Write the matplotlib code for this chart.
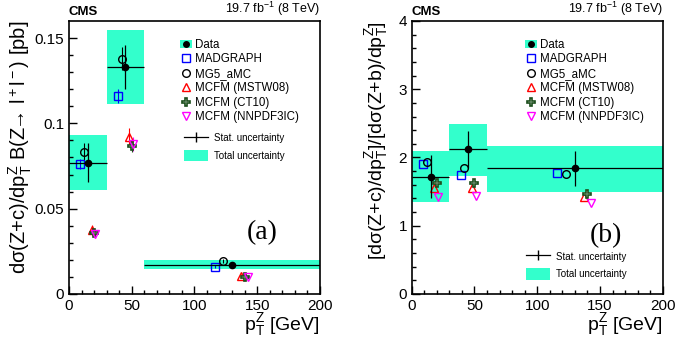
import numpy as np
import matplotlib
matplotlib.use('Agg')
from matplotlib import pyplot as plt
from matplotlib.lines import Line2D
from matplotlib.patches import Patch

plt.rcParams['font.family'] = ['Liberation Sans', 'DejaVu Sans']
plt.rcParams['mathtext.fontset'] = 'custom'
plt.rcParams['mathtext.rm'] = 'Liberation Sans'
plt.rcParams['mathtext.it'] = 'Liberation Sans'
plt.rcParams['mathtext.default'] = 'regular'

# bins in pT(Z)
bin_lo = [0, 30, 60]
bin_hi = [30, 60, 200]
x_data = [15, 45, 130]

# panel (a): dsigma(Z+c)/dpT x B [pb]
a_data = [0.077, 0.133, 0.0168]
a_stat = [0.0115, 0.0128, 0.0012]
a_tot_lo = [0.061, 0.1116, 0.0145]
a_tot_hi = [0.0932, 0.1548, 0.0199]

# panel (b): ratio Z+c / Z+b
b_data = [1.72, 2.12, 1.84]
b_stat = [0.32, 0.27, 0.26]
b_tot_lo = [1.35, 1.73, 1.49]
b_tot_hi = [2.09, 2.49, 2.17]

# theory predictions: x position, (a) value, (a) err, (b) value
models = [
    dict(label='MADGRAPH', x=[9, 39, 116], a=[0.076, 0.116, 0.016], ae=[0.003, 0.004, 0.001],
         b=[1.91, 1.74, 1.78], marker='s', color='blue'),
    dict(label='MG5_aMC', x=[12, 42, 123], a=[0.0834, 0.138, 0.0193], ae=[0.005, 0.007, 0.001],
         b=[1.93, 1.84, 1.76], marker='o', color='black'),
    dict(label='MCFM (MSTW08)', x=[18, 48, 137], a=[0.0375, 0.092, 0.0106], ae=[0.003, 0.005, 0.001],
         b=[1.56, 1.56, 1.42], marker='^', color='red'),
    dict(label='MCFM (CT10)', x=[20, 50, 140], a=[0.036, 0.087, 0.0100], ae=[0.002, 0.004, 0.001],
         b=[1.62, 1.63, 1.46], marker='P', color='#1a4d1a'),
    dict(label='MCFM (NNPDF3IC)', x=[21, 51, 143], a=[0.035, 0.088, 0.0100], ae=[0.002, 0.004, 0.001],
         b=[1.42, 1.43, 1.33], marker='v', color='magenta'),
]

cyan = '#33ffcc'

fig = plt.figure(figsize=(6.75, 3.42), dpi=100)
axa = fig.add_axes([0.1022, 0.1404, 0.3718, 0.7982])
axb = fig.add_axes([0.610, 0.1404, 0.3718, 0.7982])


def draw_panel(ax, data, stat, tlo, thi, key):
    for i in range(3):
        ax.bar(bin_lo[i], thi[i] - tlo[i], width=bin_hi[i] - bin_lo[i], bottom=tlo[i],
               align='edge', color=cyan, lw=0, zorder=1)
    for m in models:
        ys = m[key]
        ye = m['ae'] if key == 'a' else None
        if m['marker'] == 'P':
            ax.errorbar(m['x'], ys, yerr=ye, fmt='P', ms=6, mfc='white', mec=m['color'],
                        mew=1.2, ecolor=m['color'], elinewidth=0.8, capsize=0, zorder=3)
        else:
            ax.errorbar(m['x'], ys, yerr=ye, fmt=m['marker'], ms=5.5, mfc='none', mec=m['color'],
                        mew=1.0, ecolor=m['color'], elinewidth=0.8, capsize=0, zorder=3)
    xerr = [np.array(x_data) - np.array(bin_lo), np.array(bin_hi) - np.array(x_data)]
    ax.errorbar(x_data, data, xerr=xerr, yerr=stat, fmt='o', ms=4.5, color='black',
                elinewidth=0.9, capsize=0, zorder=4)


draw_panel(axa, a_data, a_stat, a_tot_lo, a_tot_hi, 'a')
draw_panel(axb, b_data, b_stat, b_tot_lo, b_tot_hi, 'b')

axa.set_xlim(0, 200)
axa.set_ylim(0, 0.16)
axa.set_yticks([0, 0.05, 0.1, 0.15])
axa.set_yticklabels(['0', '0.05', '0.1', '0.15'])
axa.set_yticks(np.arange(0, 0.16, 0.01), minor=True)
axb.set_xlim(0, 200)
axb.set_ylim(0, 4)
axb.set_yticks([0, 1, 2, 3, 4])
axb.set_yticks(np.arange(0, 4.01, 0.2), minor=True)

for ax in (axa, axb):
    ax.set_xticks([0, 50, 100, 150, 200])
    ax.set_xticks(np.arange(0, 201, 10), minor=True)
    ax.tick_params(which='both', direction='in', top=False, right=False, labelsize=11, width=1)
    ax.tick_params(which='major', length=6)
    ax.tick_params(which='minor', length=3)
    for s in ax.spines.values():
        s.set_linewidth(1.2)
    ax.set_xlabel(r'p$_T^Z$ [GeV]', fontsize=14, loc='right', labelpad=-1)
    ax.text(0.0, 1.012, 'CMS', transform=ax.transAxes, fontsize=9.5, fontweight='bold',
            ha='left', va='bottom')
    ax.text(1.0, 1.012, r'19.7 fb$^{-1}$ (8 TeV)', transform=ax.transAxes, fontsize=9,
            ha='right', va='bottom')

axa.set_ylabel(r'd$\sigma$(Z+c)/dp$_T^Z$ B(Z$\!\!\rightarrow\!$ l$^+$l$^-$) [pb]', fontsize=14.5,
               loc='top', labelpad=0)
axb.set_ylabel(r'[d$\sigma$(Z+c)/dp$_T^Z$]/[d$\sigma$(Z+b)/dp$_T^Z$]', fontsize=14,
               loc='top', labelpad=6)

axa.text(154, 0.036, '(a)', fontsize=20, family='Liberation Serif', ha='center', va='center')
axb.text(155, 0.86, '(b)', fontsize=20, family='Liberation Serif', ha='center', va='center')

# legends
data_handle = (Patch(facecolor=cyan, lw=0), Line2D([], [], ls='', marker='o', ms=4, color='black'))
model_handles = [data_handle]
for m in models:
    if m['marker'] == 'P':
        h = Line2D([], [], ls='', marker='P', ms=6, mfc='white', mec=m['color'], mew=1.2)
    else:
        h = Line2D([], [], ls='', marker=m['marker'], ms=5.5, mfc='none', mec=m['color'], mew=1.0)
    model_handles.append(h)
model_labels = ['Data'] + [m['label'] for m in models]

unc_handles = [Line2D([], [], color='black', lw=0.9, marker='|', ms=7),
               Patch(facecolor=cyan, lw=0)]
unc_labels = ['Stat. uncertainty', 'Total uncertainty']

leg_a = axa.legend(model_handles, model_labels, loc='upper left', bbox_to_anchor=(0.42, 0.955),
                   fontsize=8.3, frameon=False, handlelength=1.0, handletextpad=0.3,
                   labelspacing=0.21, borderpad=0)
axa.add_artist(leg_a)
axa.legend(unc_handles, unc_labels, loc='upper left', bbox_to_anchor=(0.438, 0.61),
           fontsize=7, frameon=False, handlelength=2.5, handleheight=1.45,
           handletextpad=0.6, labelspacing=0.6, borderpad=0)

leg_b = axb.legend(model_handles, model_labels, loc='upper left', bbox_to_anchor=(0.43, 0.955),
                   fontsize=8.3, frameon=False, handlelength=1.0, handletextpad=0.3,
                   labelspacing=0.21, borderpad=0)
axb.add_artist(leg_b)
axb.legend(unc_handles, unc_labels, loc='upper left', bbox_to_anchor=(0.436, 0.176),
           fontsize=7, frameon=False, handlelength=2.5, handleheight=1.45,
           handletextpad=0.6, labelspacing=0.6, borderpad=0)

fig.savefig('out.png', dpi=100)
